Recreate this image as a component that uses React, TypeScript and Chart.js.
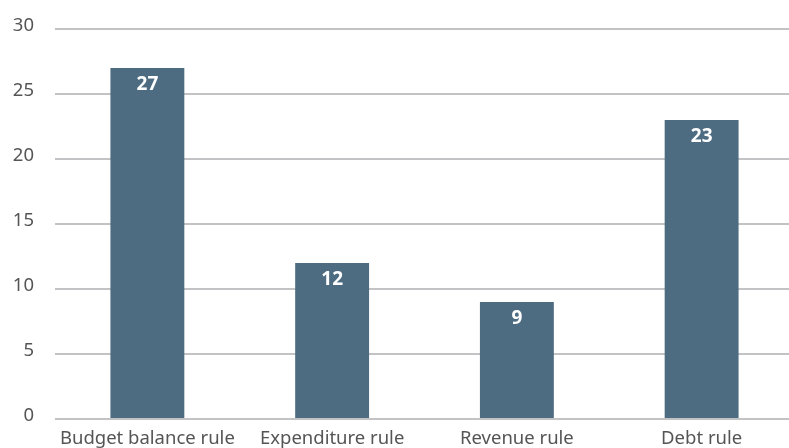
import React, { useEffect, useRef } from "react";
import { Chart, registerables } from "chart.js";

Chart.register(...registerables);

const categories = ["Budget balance rule", "Expenditure rule", "Revenue rule", "Debt rule"];
const values = [27, 12, 9, 23];
const yTicks = [0, 5, 10, 15, 20, 25, 30];

const BAR_COLOR = "#4e6c81";
const GRID_COLOR = "#c3c3c5";
const TEXT_COLOR = "#555555";
const FONT = "'Noto Sans', 'Open Sans', sans-serif";

const valueLabels = {
  id: "valueLabels",
  afterDatasetsDraw(chart: any) {
    const ctx = chart.ctx;
    const meta = chart.getDatasetMeta(0);
    ctx.save();
    ctx.fillStyle = "#ffffff";
    ctx.font = `bold 19px ${FONT}`;
    ctx.textAlign = "center";
    ctx.textBaseline = "middle";
    meta.data.forEach((bar: any, i: number) => {
      ctx.fillText(String(values[i]), bar.x, bar.y + 17);
    });
    ctx.restore();
  },
};

export default function App() {
  const ref = useRef<HTMLCanvasElement | null>(null);
  useEffect(() => {
    document.body.style.margin = "0";
    const chart = new Chart(ref.current as HTMLCanvasElement, {
      type: "bar",
      data: {
        labels: categories,
        datasets: [
          {
            data: values,
            backgroundColor: BAR_COLOR,
            barPercentage: 0.4,
            categoryPercentage: 1,
          },
        ],
      },
      options: {
        animation: false,
        responsive: false,
        maintainAspectRatio: false,
        layout: { padding: { top: 29, left: 0, right: 0, bottom: 0 } },
        plugins: { legend: { display: false }, tooltip: { enabled: false } },
        scales: {
          x: {
            grid: { display: false, drawTicks: false },
            border: { display: false },
            ticks: {
              color: TEXT_COLOR,
              font: { family: FONT, size: 18.5 },
              padding: 9,
              maxRotation: 0,
              autoSkip: false,
            },
            afterFit(scale: any) {
              scale.height = 29;
            },
          },
          y: {
            min: 0,
            max: 30,
            afterBuildTicks(scale: any) {
              scale.ticks = yTicks.map((v) => ({ value: v }));
            },
            grid: {
              color: GRID_COLOR,
              lineWidth: 2,
              drawTicks: true,
              tickLength: 21,
              tickColor: "rgba(0,0,0,0)",
            },
            border: { display: false },
            ticks: {
              color: TEXT_COLOR,
              font: { family: FONT, size: 18.5 },
              padding: 0,
              labelOffset: -3.5,
            },
            afterFit(scale: any) {
              scale.width = 55;
            },
          },
        },
      },
      plugins: [valueLabels],
    });
    return () => chart.destroy();
  }, []);
  return (
    <div style={{ position: "fixed", left: 0, top: 0, width: 789, height: 448, overflow: "hidden", background: "#fff" }}>
      <canvas ref={ref} width={794} height={448} style={{ display: "block" }} />
    </div>
  );
}
